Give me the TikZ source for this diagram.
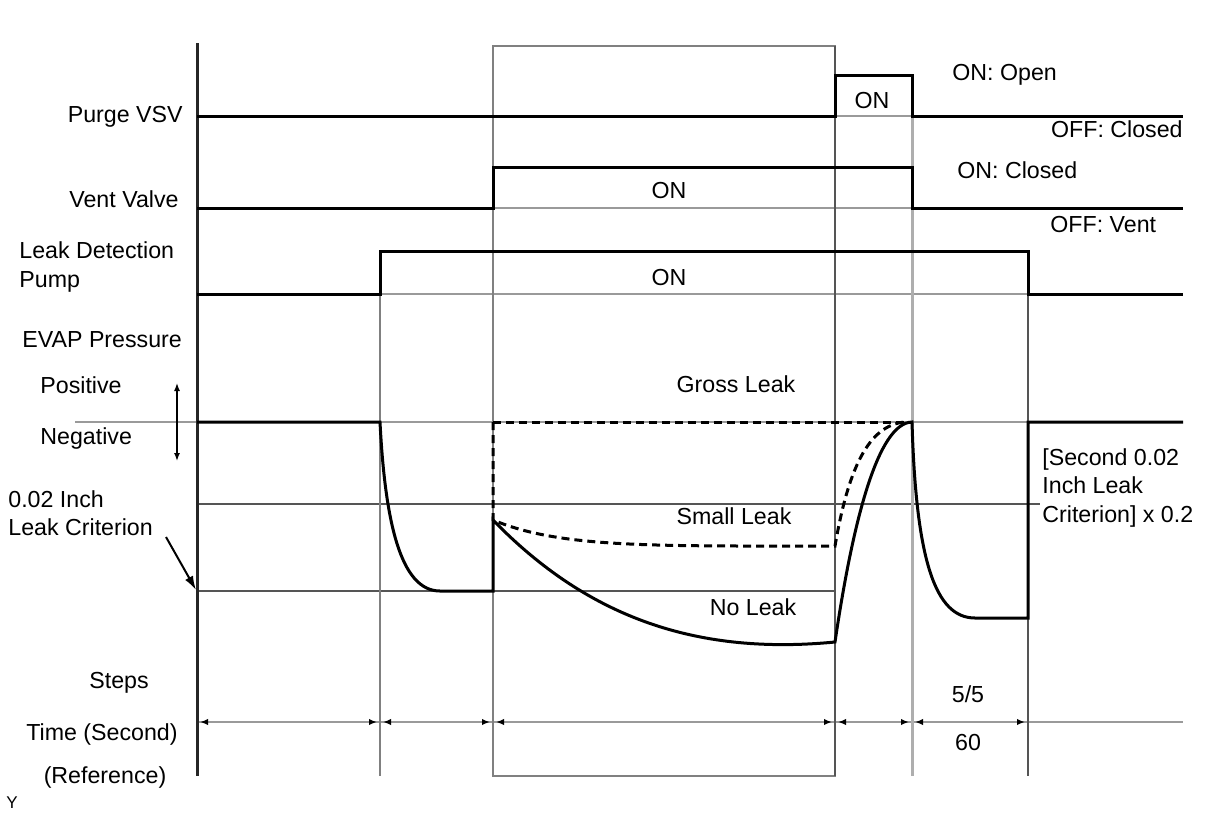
\documentclass[tikz,border=0pt]{standalone}
\usepackage{fontspec}
\setmainfont{Liberation Sans}
\usetikzlibrary{arrows.meta}

\definecolor{gridgray}{HTML}{9A9A9A}
\definecolor{darkline}{HTML}{555555}

\tikzset{
  sig/.style={line width=1.5pt, black},
  gridln/.style={line width=1.2pt, gridgray},
  critln/.style={line width=0.9pt, darkline},
  lbl/.style={inner sep=0pt, font=\fontsize{11.6}{14}\selectfont},
  tarrow/.style={line width=1.2pt, gridgray,
    {Latex[length=4pt,width=3.2pt,color=black]}-{Latex[length=4pt,width=3.2pt,color=black]}},
}

\begin{document}
\begin{tikzpicture}[x=0.5pt, y=-0.5pt]

    \useasboundingbox (0,0) rectangle (1208,814);

    % Grid lines and step box
    \draw[gridln] (197,116) -- (1183,116);
    \draw[gridln] (197,208) -- (1183,208);
    \draw[gridln] (197,294) -- (1183,294);
    \draw[gridln] (75,422) -- (1183,422);
    \draw[critln] (197,504) -- (1040,504);
    \draw[critln] (197,591) -- (835,591);
    \draw[gridln] (197,722) -- (1183,722);
    \draw[gridln, gray] (380,251) -- (380,776);
    \draw[line width=1pt, gray] (493,46) rectangle (835,776);
    \draw[line width=1.2pt, darkline] (835,46) -- (835,776);
    \draw[line width=1.5pt, gridgray!80] (912,75) -- (912,776);
    \draw[line width=1.2pt, darkline] (1028,251) -- (1028,776);
    \draw[line width=1.5pt, black!85] (197,43) -- (197,776);

    % Signal traces
    \draw[sig] (197,116) -- (835,116) -- (835,75) -- (912,75) -- (912,116) -- (1183,116);
    \draw[sig] (197,208) -- (493,208) -- (493,167) -- (912,167) -- (912,208) -- (1183,208);
    \draw[sig] (197,294) -- (380,294) -- (380,251) -- (1028,251) -- (1028,294) -- (1183,294);

    % EVAP pressure
    \draw[sig] (197,422) -- (380,422) .. controls (385,520) and (400,591) .. (440,591)
      -- (493,591) -- (493,520) .. controls (590,620) and (700,655) .. (835,642)
      .. controls (853,520) and (878,423) .. (912,422)
      .. controls (916,560) and (935,618) .. (975,618) -- (1028,618) -- (1028,422) -- (1183,422);
    \draw[sig, dash pattern=on 4pt off 2.5pt] (493,422) -- (912,422);
    \draw[sig, dash pattern=on 4pt off 2.5pt] (493,422) -- (493,520)
      .. controls (560,548) and (650,546) .. (835,546)
      .. controls (848,470) and (868,425) .. (905,422);

    % Time axis
    \foreach \a/\b in {197/380, 380/493, 493/835, 835/912, 912/1028}
      \draw[tarrow] (\a+3,722) -- (\b-3,722);

    % Arrows on the left
    \coordinate (pos) at (177,383);
    \coordinate (neg) at (177,461);
    \coordinate (critfrom) at (166,537);
    \coordinate (critto) at (196,590);
    \draw[line width=0.7pt, {Latex[length=4pt,width=3pt]}-{Latex[length=4pt,width=3pt]}] (pos) -- (neg);
    \draw[line width=1pt, -{Latex[length=7pt,width=4.5pt]}] (critfrom) -- (critto);

    % Labels
    \node (purge) at (183,122) [lbl, anchor=base east] {Purge VSV};
    \node (vent) at (179,207) [lbl, anchor=base east] {Vent Valve};
    \node (pump1) at (19,258) [lbl, anchor=base west] {Leak Detection};
    \node (pump2) at (19,287) [lbl, anchor=base west] {Pump};
    \node (evap) at (22,347) [lbl, anchor=base west] {EVAP Pressure};
    \node (posl) at (40,393) [lbl, anchor=base west] {Positive};
    \node (negl) at (40,444) [lbl, anchor=base west] {Negative};
    \node (crit1) at (8,507) [lbl, anchor=base west] {0.02 Inch};
    \node (crit2) at (8,535) [lbl, anchor=base west] {Leak Criterion};
    \node (steps) at (119,688) [lbl, anchor=base] {Steps};
    \node (time) at (178,740) [lbl, anchor=base east] {Time (Second)};
    \node (ref) at (105,783) [lbl, anchor=base] {(Reference)};
    \node (ymark) at (6,808) [inner sep=0pt, anchor=base west, font=\fontsize{8.5}{10}\selectfont] {Y};

    \node (on1) at (872,108) [lbl, anchor=base] {ON};
    \node (on2) at (669,198) [lbl, anchor=base] {ON};
    \node (on3) at (669,285) [lbl, anchor=base] {ON};
    \node (onopen) at (952,80) [lbl, anchor=base west] {ON: Open};
    \node (offclosed) at (1183,137) [lbl, anchor=base east] {OFF: Closed};
    \node (onclosed) at (957,178) [lbl, anchor=base west] {ON: Closed};
    \node (offvent) at (1050,232) [lbl, anchor=base west] {OFF: Vent};

    \node (gross) at (736,392) [lbl, anchor=base] {Gross Leak};
    \node (small) at (734,524) [lbl, anchor=base] {Small Leak};
    \node (noleak) at (753,615) [lbl, anchor=base] {No Leak};

    \node (sec1) at (1042,465) [lbl, anchor=base west] {[Second 0.02};
    \node (sec2) at (1042,493) [lbl, anchor=base west] {Inch Leak};
    \node (sec3) at (1042,522) [lbl, anchor=base west] {Criterion] x 0.2};

    \node (step5) at (968,702) [lbl, anchor=base] {5/5};
    \node (sixty) at (968,750) [lbl, anchor=base] {60};

\end{tikzpicture}
\end{document}
